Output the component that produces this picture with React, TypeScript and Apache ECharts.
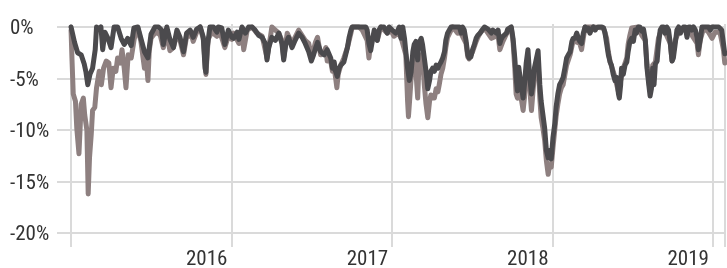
import React, { useEffect, useRef } from "react";
import * as echarts from "echarts";

// x = days since 2015-01-01, y = drawdown in %
const yearStarts = [0, 365, 731, 1096, 1461];
const yearLabels = ["2015", "2016", "2017", "2018", "2019"];
const xLabelDays = [365, 731, 1096, 1461];
const xMinDay = -32;
const xMaxDay = 1488.5;
const yTicks = [-20, -15, -10, -5, 0];

const darkSeries: [number, number][] = [
  [0, 0], [8, -1.5], [15, -2.5], [23, -2.7], [30, -3.6], [34, -4.4], [38, -5.6], [43, -4.6], [49, -4.0], [55, -2.2],
  [58, 0], [64, -0.2], [68, 0], [72, -2.2], [77, -0.5], [84, -1.1], [91, -2.0], [98, 0], [106, 0], [114, -1.1],
  [121, -1.7], [129, -1.1], [137, -1.8], [143, -0.1], [152, 0], [159, -1.1], [167, -2.4], [175, -3.0], [182, -0.7], [191, 0],
  [199, 0], [206, -0.3], [210, -1.7], [218, 0], [225, -1.2], [233, -2.0], [241, -0.3], [248, -1.0], [256, -2.4], [263, -0.6],
  [271, -0.3], [278, -1.0], [286, -0.2], [294, 0], [301, -1.0], [305, -4.0], [307, -4.4], [310, -2.0], [316, 0], [324, 0],
  [332, -0.5], [335, 0], [343, -0.1], [350, -1.7], [358, -0.3], [366, -1.0], [370, -1.1], [378, -0.5], [382, -1.2], [389, 0],
  [397, -0.6], [404, 0], [412, 0], [419, -0.3], [427, -0.8], [435, -1.0], [442, -1.6], [446, -3.2], [450, -2.0], [457, -1.0],
  [465, -1.3], [473, -0.6], [480, -1.6], [484, -3.2], [489, -1.6], [495, -1.0], [503, -2.0], [510, -1.3], [518, -0.6], [526, -1.0],
  [533, -1.6], [541, -2.4], [547, -3.3], [552, -2.7], [557, -2.0], [561, -1.5], [568, -2.4], [576, -2.7], [583, -2.2], [591, -3.0],
  [595, -4.0], [599, -3.4], [602, -4.3], [606, -4.8], [610, -4.0], [614, -3.7], [621, -3.4], [625, -2.7], [629, -2.0], [633, -1.0],
  [637, -0.3], [640, 0], [648, 0], [655, 0], [663, 0], [671, 0], [674, -0.3], [678, -1.6], [682, -2.3], [686, -1.3],
  [690, -0.3], [693, -1.0], [697, -1.3], [701, -0.3], [705, 0], [712, 0], [720, -0.6], [724, 0], [731, -0.3], [739, -0.6],
  [744, -0.3], [747, 0], [751, -1.1], [755, 0], [759, -1.1], [762, -2.4], [766, -4.0], [770, -5.2], [774, -4.4], [778, -2.4],
  [781, -1.7], [785, -1.4], [789, -3.2], [791, -1.7], [797, -1.1], [800, -1.7], [804, -3.0], [808, -4.3], [812, -6.0], [816, -5.2],
  [819, -4.3], [823, -4.0], [827, -4.3], [831, -3.7], [835, -4.0], [838, -3.7], [842, -3.4], [846, -3.0], [850, -2.4], [853, -1.3],
  [857, -0.6], [861, -0.3], [865, 0], [869, 0], [876, 0], [884, 0], [888, -0.6], [891, 0], [895, -0.3], [899, -1.3],
  [903, -2.7], [906, -3.0], [910, -2.9], [914, -2.2], [918, -1.7], [922, -1.1], [926, -0.8], [931, -0.6], [934, -0.4], [941, 0],
  [949, -0.2], [957, -0.6], [960, -0.3], [968, -0.6], [972, -0.3], [976, -1.6], [979, -1.2], [983, -0.9], [991, -0.6], [994, -0.2],
  [1002, 0], [1006, -1.1], [1010, -3.0], [1013, -4.9], [1016, -6.2], [1019, -3.9], [1023, -5.2], [1029, -6.9], [1032, -5.6], [1036, -3.5],
  [1040, -2.2], [1044, -4.9], [1048, -6.5], [1051, -5.6], [1055, -3.9], [1063, -2.3], [1067, -5.6], [1070, -7.2], [1074, -8.5], [1078, -9.8],
  [1082, -12.0], [1086, -12.7], [1089, -12.0], [1093, -12.8], [1097, -10.7], [1101, -9.4], [1104, -7.8], [1108, -6.5], [1112, -5.6], [1116, -5.3],
  [1120, -4.9], [1124, -4.0], [1128, -3.0], [1132, -2.7], [1136, -2.4], [1140, -1.4], [1143, -1.1], [1147, -1.1], [1151, -0.6], [1155, -1.1],
  [1158, -1.4], [1162, -1.6], [1166, -0.6], [1170, 0], [1174, -0.3], [1177, -0.1], [1181, -0.6], [1185, -0.2], [1189, 0], [1193, -0.3],
  [1196, -0.1], [1200, 0], [1204, 0], [1208, 0], [1212, -0.1], [1215, -0.5], [1219, -1.6], [1223, -2.7], [1227, -3.4], [1230, -3.7],
  [1234, -4.6], [1238, -5.2], [1242, -4.9], [1246, -6.5], [1248, -6.9], [1251, -5.6], [1253, -4.0], [1257, -4.6], [1261, -3.7], [1265, -3.4],
  [1268, -2.4], [1272, -1.4], [1276, -1.1], [1280, -1.4], [1284, -0.3], [1287, -0.6], [1291, 0], [1295, 0], [1299, -0.4], [1303, -0.2],
  [1307, -1.2], [1311, -4.0], [1315, -5.6], [1318, -6.7], [1321, -6.0], [1324, -4.0], [1327, -5.6], [1330, -3.6], [1334, -3.3], [1337, -1.7],
  [1341, -0.3], [1345, 0], [1349, 0], [1352, -0.6], [1356, 0], [1360, -0.3], [1364, -1.6], [1368, -3.3], [1371, -3.0], [1375, -1.7],
  [1379, -0.3], [1383, 0], [1387, -0.6], [1390, -0.3], [1394, 0], [1398, 0], [1402, -1.0], [1406, 0], [1409, 0], [1413, -0.3],
  [1417, 0], [1421, -0.3], [1425, -1.0], [1428, -2.2], [1432, -1.3], [1436, 0], [1443, 0], [1451, 0], [1455, -0.3], [1459, 0],
  [1466, 0], [1474, 0], [1481, -0.3], [1485, -1.6], [1488, -2.6],
];

const brownSeries: [number, number][] = [
  [0, -0.3], [2, -3.0], [5, -6.5], [10, -7.2], [13, -9.8], [18, -12.3], [20, -10.4], [23, -7.5], [28, -6.9], [31, -8.5],
  [36, -10.0], [39, -16.2], [42, -12.7], [46, -10.4], [49, -8.1], [54, -7.8], [58, -5.9], [64, -4.3], [69, -5.6], [74, -4.0],
  [80, -3.3], [86, -3.5], [91, -5.9], [96, -4.0], [102, -4.3], [106, -3.0], [112, -3.5], [116, -2.2], [121, -4.0], [125, -5.9],
  [130, -2.7], [137, -3.0], [144, -1.1], [152, -0.1], [159, -1.4], [167, -4.0], [171, -3.0], [175, -5.2], [178, -2.3], [182, -1.1],
  [187, -0.8], [195, -0.5], [203, -0.8], [210, -2.0], [218, -0.5], [225, -2.3], [233, -2.0], [241, -0.7], [248, -1.3], [256, -2.7],
  [263, -0.9], [275, -0.9], [278, -1.4], [286, -0.5], [294, 0], [301, -1.2], [307, -4.6], [312, -1.2], [320, -0.5], [332, -0.9],
  [339, -0.5], [350, -2.0], [358, -0.9], [366, -1.2], [370, -0.6], [382, -1.6], [389, -0.3], [393, -2.2], [401, -0.3], [412, 0],
  [423, -0.6], [435, -0.9], [446, -3.0], [454, -0.9], [457, 0], [465, -0.3], [473, -0.6], [480, -1.3], [484, -3.0], [492, -0.6],
  [503, -1.6], [518, -0.3], [533, -1.3], [541, -1.6], [548, -3.0], [556, -1.5], [561, -1.0], [568, -2.7], [576, -2.4], [580, -2.0],
  [583, -3.3], [591, -3.3], [595, -4.3], [599, -4.0], [602, -4.9], [605, -5.9], [608, -4.6], [614, -3.7], [621, -3.0], [629, -2.0],
  [637, -0.6], [640, 0], [655, 0], [663, -0.3], [674, -1.3], [678, -3.0], [682, -1.6], [690, -0.6], [697, -1.3], [705, 0],
  [720, -0.6], [728, -0.3], [735, -0.9], [744, -0.6], [751, -1.0], [762, -2.7], [766, -7.2], [768, -8.7], [771, -6.9], [774, -5.0],
  [778, -3.4], [781, -2.7], [785, -4.3], [789, -6.9], [791, -4.6], [797, -2.7], [800, -3.0], [804, -5.6], [808, -7.5], [812, -8.8],
  [816, -7.2], [819, -6.6], [823, -6.9], [827, -6.9], [831, -6.0], [835, -6.3], [838, -5.6], [842, -4.6], [846, -4.0], [850, -3.0],
  [853, -2.0], [857, -1.0], [865, -0.3], [869, 0], [880, -0.6], [884, -0.3], [899, -1.6], [903, -2.9], [906, -3.1], [914, -2.4],
  [922, -1.4], [926, -1.0], [931, -0.6], [941, -0.1], [957, -1.1], [972, -0.8], [976, -2.2], [983, -1.4], [994, -0.4], [1002, -0.1],
  [1006, -1.4], [1010, -4.0], [1013, -6.5], [1016, -6.9], [1019, -5.0], [1023, -6.5], [1029, -8.1], [1032, -6.9], [1036, -4.3], [1040, -3.0],
  [1044, -5.9], [1048, -8.1], [1051, -6.5], [1055, -4.6], [1063, -3.3], [1067, -6.9], [1070, -8.8], [1074, -9.8], [1078, -11.0], [1082, -13.0],
  [1086, -14.3], [1089, -13.4], [1093, -13.6], [1097, -11.7], [1101, -10.0], [1104, -8.7], [1108, -7.5], [1112, -6.5], [1116, -5.9], [1120, -5.6],
  [1128, -3.7], [1136, -2.7], [1143, -1.3], [1158, -1.6], [1162, -2.2], [1170, 0], [1189, 0], [1212, -0.1], [1219, -1.1], [1223, -2.4],
  [1227, -3.4], [1234, -4.3], [1238, -4.9], [1246, -6.3], [1249, -5.6], [1257, -4.0], [1265, -3.0], [1268, -1.7], [1272, -0.8], [1276, -0.1],
  [1291, 0], [1299, -0.8], [1307, -1.3], [1311, -3.7], [1315, -5.2], [1318, -6.2], [1324, -3.7], [1330, -3.4], [1337, -1.1], [1345, -0.1],
  [1352, -0.5], [1364, -1.6], [1368, -3.3], [1375, -1.3], [1383, -0.5], [1398, -0.1], [1409, -0.3], [1413, -0.8], [1425, -1.6], [1428, -2.7],
  [1432, -1.3], [1440, -0.1], [1451, -0.5], [1459, -1.1], [1466, -0.5], [1477, -0.5], [1485, -2.2], [1488, -3.5],
];

const GRID_COLOR = "#dadada";
const TEXT_COLOR = "#333333";
const FONT = "'Liberation Sans Narrow', 'Roboto Condensed', 'DejaVu Sans Condensed', Roboto, sans-serif";

export default function App() {
  const ref = useRef<HTMLDivElement>(null);

  useEffect(() => {
    if (!ref.current) return;
    const chart = echarts.init(ref.current, undefined, { renderer: "svg" });
    const labelFor = (v: number) => {
      let best = 0;
      for (let i = 0; i < yearStarts.length; i++) {
        if (Math.abs(yearStarts[i] - v) < Math.abs(yearStarts[best] - v)) best = i;
      }
      return yearLabels[best];
    };
    chart.setOption({
      animation: false,
      grid: { left: 57, right: 2, top: 24, bottom: 20, containLabel: false },
      xAxis: {
        type: "value",
        min: xMinDay,
        max: xMaxDay,
        axisLine: { show: false },
        axisTick: { show: false, customValues: [...yearStarts, xMaxDay] },
        splitLine: { show: true, lineStyle: { color: GRID_COLOR, width: 2 } },
        axisLabel: {
          customValues: xLabelDays,
          formatter: (v: number) => labelFor(v),
          align: "right",
          padding: [0, 4, 0, 0],
          margin: 0,
          fontSize: 21,
          color: TEXT_COLOR,
          fontFamily: FONT,
        },
      },
      yAxis: {
        type: "value",
        min: -21.35,
        max: 0.29,
        axisLine: { show: false },
        axisTick: { show: false, customValues: yTicks },
        splitLine: { show: true, lineStyle: { color: GRID_COLOR, width: 2 } },
        axisLabel: {
          customValues: yTicks,
          formatter: (v: number) => `${Math.round(v)}%`,
          align: "left",
          margin: 47,
          padding: [9, 0, 0, 0],
          fontSize: 21,
          color: TEXT_COLOR,
          fontFamily: FONT,
        },
      },
      series: [
        {
          name: "Series B",
          type: "line",
          data: brownSeries,
          showSymbol: false,
          symbol: "none",
          lineStyle: { color: "#8e8080", width: 5, cap: "round", join: "round" },
          z: 2,
        },
        {
          name: "Series A",
          type: "line",
          data: darkSeries,
          showSymbol: false,
          symbol: "none",
          lineStyle: { color: "#4b4a4d", width: 5, cap: "round", join: "round" },
          z: 3,
        },
      ],
    });
    return () => chart.dispose();
  }, []);

  return (
    <div
      ref={ref}
      style={{ position: "fixed", left: 0, top: 0, width: 727, height: 268 }}
    />
  );
}
